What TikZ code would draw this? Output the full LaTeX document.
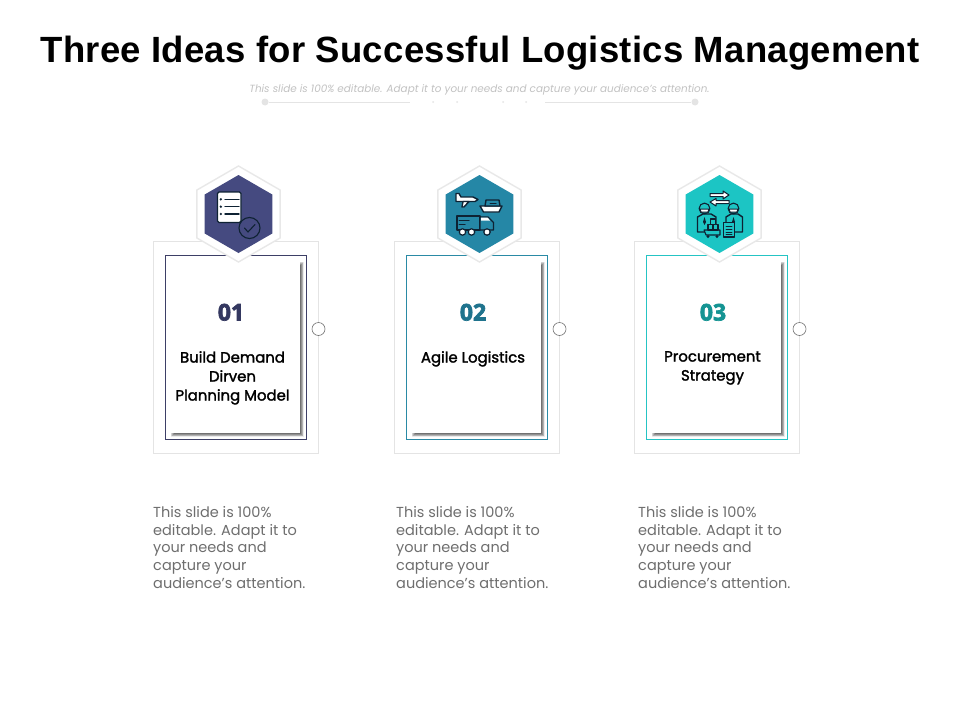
\documentclass[tikz,border=0pt]{standalone}
\usepackage{fontspec}
\setmainfont{Poppins}
\newfontfamily\titlefont[LetterSpace=0.7]{Liberation Sans}
\newfontfamily\numfont[FakeBold=3]{Open Sans}
\newfontfamily\headfont[FakeBold=1.8]{Poppins}
\usetikzlibrary{shapes.geometric}
\definecolor{cA}{HTML}{454A80}
\definecolor{cB}{HTML}{2587A6}
\definecolor{cC}{HTML}{1CC5C4}
\definecolor{bA}{HTML}{3D3F66}
\definecolor{bB}{HTML}{2A8AA5}
\definecolor{bC}{HTML}{25C4C4}
\definecolor{ink}{HTML}{0E2233}
\definecolor{ruleg}{HTML}{E4E4E4}
\definecolor{bodyg}{HTML}{6E6E6E}
\tikzset{
  x=1pt,y=-1pt,
  titletext/.style={font=\titlefont\bfseries\fontsize{36.5}{40}\selectfont,text=black,inner sep=0,anchor=base},
  subtext/.style={font=\itshape\fontsize{10.4}{12}\selectfont,text=black!24,inner sep=0,anchor=base},
  outerbox/.style={draw=ruleg,line width=.9pt,fill=white},
  paperbox/.style={fill=white,draw=none},
  hexout/.style={regular polygon,regular polygon sides=6,shape border rotate=30,minimum size=96pt,inner sep=0,fill=white,draw=black!9,line width=1.4pt},
  hexin/.style={regular polygon,regular polygon sides=6,shape border rotate=30,minimum size=78pt,inner sep=0,draw=none},
  ringdot/.style={circle,minimum size=13pt,inner sep=0,draw=black!55,fill=white,line width=.6pt},
  numtext/.style={font=\numfont\bfseries\fontsize{23}{26}\selectfont,inner sep=0,anchor=base},
  headtext/.style={font=\headfont\fontsize{14.9}{19}\selectfont,text=black,inner sep=0,align=center,anchor=north},
  bodytext/.style={font=\fontsize{14.5}{17.8}\selectfont,text=bodyg,inner sep=0,align=left,anchor=north west},
  ic/.style={draw=ink,line width=1.4pt,line join=round,line cap=round},
  endcap/.style={circle,minimum size=7pt,inner sep=0,fill=ruleg},
  smalldot/.style={circle,minimum size=2pt,inner sep=0,fill=ruleg},
}
% #1 name, #2 outer left, #3 colour, #4 border
\newcommand{\cardcol}[4]{%
  \pgfmathsetmacro{\xa}{#2}%
  \pgfmathsetmacro{\xb}{#2+165.5}%
  \pgfmathsetmacro{\xc}{#2+12}%
  \pgfmathsetmacro{\xd}{#2+153}%
  \pgfmathsetmacro{\xe}{#2+19}%
  \pgfmathsetmacro{\xf}{#2+147}%
  \pgfmathsetmacro{\xh}{#2+85.5}%
  \draw[outerbox] (\xa,241) rectangle (\xb,453.5);
  \foreach \k/\o in {1.5/.08,.8/.11,0/.15,-.8/.18,-1.6/.22}{
    \fill[black,opacity=\o] (\xe-\k,263-\k) rectangle (\xf+2.5+\k,433+2.5+\k);
  }
  \fill[paperbox] (\xc,255) rectangle (\xf,433);
  \draw[draw=#4,line width=.7pt] (\xc,255.5) rectangle (\xd,439);
  \node[hexout] (#1hexo) at (\xh,214) {};
  \node[hexin,fill=#3] (#1hexi) at (\xh,214) {};
  \node[ringdot] (#1ring) at (\xb,329) {};
}
\begin{document}
\begin{tikzpicture}
\useasboundingbox (0,0) rectangle (960,720);
\fill[white] (0,0) rectangle (960,720);

\node[titletext] (title) at (480,62) {Three Ideas for Successful Logistics Management};
\node[subtext] (sub) at (479.5,92) {This slide is 100\% editable. Adapt it to your needs and capture your audience's attention.};

\node[endcap] (capl) at (265,102) {};
\node[endcap] (capr) at (695,102) {};
\coordinate (gapl) at (410,102);
\coordinate (gapr) at (545,102);
\draw[ruleg,line width=.6pt] (capl) -- (gapl);
\draw[ruleg,line width=.6pt] (gapr) -- (capr);
\node[smalldot] (da) at (433,102) {};
\node[smalldot] (db) at (457,102) {};
\node[smalldot] (dc) at (503,102) {};
\node[smalldot] (dd) at (526,102) {};

\cardcol{a}{153}{cA}{bA}
\cardcol{b}{394}{cB}{bB}
\cardcol{c}{634}{cC}{bC}

% icon 1
\draw[ic,fill=white,rounded corners=1.5pt] (217.5,192) rectangle (241,222.5);
\foreach \y in {199.3,206.7,214}{
  \fill[ink] (220.8,\y) circle (1.3);
  \draw[ic] (225,\y) -- (239,\y);
}
\draw[ic,line width=1.1pt] (249.5,228) circle (10.5);
\draw[ic,line width=1.1pt] (244.5,228) -- (248,232) -- (255,224.5);

% icon 2: plane
\draw[ic,fill=white] (456,193.5) -- (459,193.5) -- (461,197) -- (473,197) -- (478,199.5) -- (475,201.5) -- (459,201.5) -- (456,201.5) -- cycle;
\draw[ic,fill=white] (463,201.5) -- (469,201.5) -- (464,207) -- (462,207) -- cycle;
% icon 2: ship
\draw[ic,fill=white] (480,206) -- (502,206) -- (499,212) -- (483.5,212) -- cycle;
\draw[ic,fill=cB] (486,200) -- (499,200) -- (500,206) -- (485,206) -- cycle;
\draw[ic,line width=1pt] (490,203) -- (496,203);
% icon 2: truck
\draw[ic,fill=cB] (457,216) rectangle (480,230);
\draw[ic,line width=1pt] (459,220) -- (469,220) (459,224) -- (465,224);
\draw[ic,fill=cB] (480,217) -- (488,217) -- (493.5,222.5) -- (493.5,230) -- (480,230) -- cycle;
\fill[white] (481,217.5) -- (487.5,217.5) -- (490,220.5) -- (481,220.5) -- cycle;
\foreach \xx in {462.5,471.5,487}{
  \draw[ink,fill=white,line width=1.2pt] (\xx,232) circle (3.2);
}

% icon 3: arrows
\draw[ic,line width=1pt,fill=white] (710,193.5) -- (723,193.5) -- (723,191) -- (729,195) -- (723,199) -- (723,196.5) -- (710,196.5) -- cycle;
\draw[ic,line width=1pt,fill=white] (729,200.5) -- (716,200.5) -- (716,198.5) -- (710,202) -- (716,206) -- (716,203.5) -- (729,203.5) -- cycle;
% icon 3: left person
\draw[ic,fill=cC] (697.5,232) -- (697.5,217) -- (703,214) -- (711,214) -- (716,217) -- (716,228) -- (707,232) -- cycle;
\draw[ic,line width=1.1pt,fill=cC] (704.5,208.5) circle (5.4);
\draw[ic,line width=1pt,fill=white] (700,209) -- (709,209) -- (708,212) -- (701,212) -- cycle;
\fill[ink] (704.5,217) -- (706,222) -- (704.5,225) -- (703,222) -- cycle;
% icon 3: right person
\draw[ic,fill=cC] (726,232) -- (726,217) -- (731,214) -- (738,214) -- (742.5,217) -- (742.5,232) -- cycle;
\draw[ic,line width=1.1pt,fill=cC] (733.5,208.5) circle (5.4);
\draw[ic,line width=1pt,fill=white] (729,209) -- (738,209) -- (737,212) -- (730,212) -- cycle;
\fill[ink] (733.5,217) -- (735,222) -- (733.5,225) -- (732,222) -- cycle;
% icon 3: cart
\draw[ic,line width=1.1pt,fill=cC] (704,230) -- (720,230) -- (720,235) -- (706,235) -- cycle;
\draw[ic,line width=1.1pt,fill=cC] (708,224.5) rectangle (713,230);
\draw[ic,line width=1.1pt,fill=cC] (713,224.5) rectangle (718,230);
\draw[ic,line width=1.1pt,fill=cC] (710.5,219) rectangle (715.5,224.5);
\fill[ink] (708,236.5) circle (1.6) (717,236.5) circle (1.6);
% icon 3: clipboard
\draw[ic,line width=1.1pt,fill=cC] (723.5,222.5) rectangle (734.5,237);
\foreach \y in {226,229,232,234.5}{\draw[ic,line width=.8pt] (726,\y) -- (732,\y);}

% numbers
\node[numtext,text=cA!75!black] (na) at (231,320.5) {01};
\node[numtext,text=cB!85!black] (nb) at (473,320.5) {02};
\node[numtext,text=cC!75!black] (nc) at (713,320.5) {03};

\node[headtext] (ha) at (232.5,351) {Build Demand\\Dirven\\Planning Model};
\node[headtext] (hb) at (473,351) {Agile Logistics};
\node[headtext] (hc) at (712.5,351) {Procurement\\Strategy};

\node[bodytext] (ba) at (153,506) {This slide is 100\%\\editable. Adapt it to\\your needs and\\capture your\\audience's attention.};
\node[bodytext] (bb) at (396,506) {This slide is 100\%\\editable. Adapt it to\\your needs and\\capture your\\audience's attention.};
\node[bodytext] (bc) at (638,506) {This slide is 100\%\\editable. Adapt it to\\your needs and\\capture your\\audience's attention.};
\end{tikzpicture}
\end{document}
